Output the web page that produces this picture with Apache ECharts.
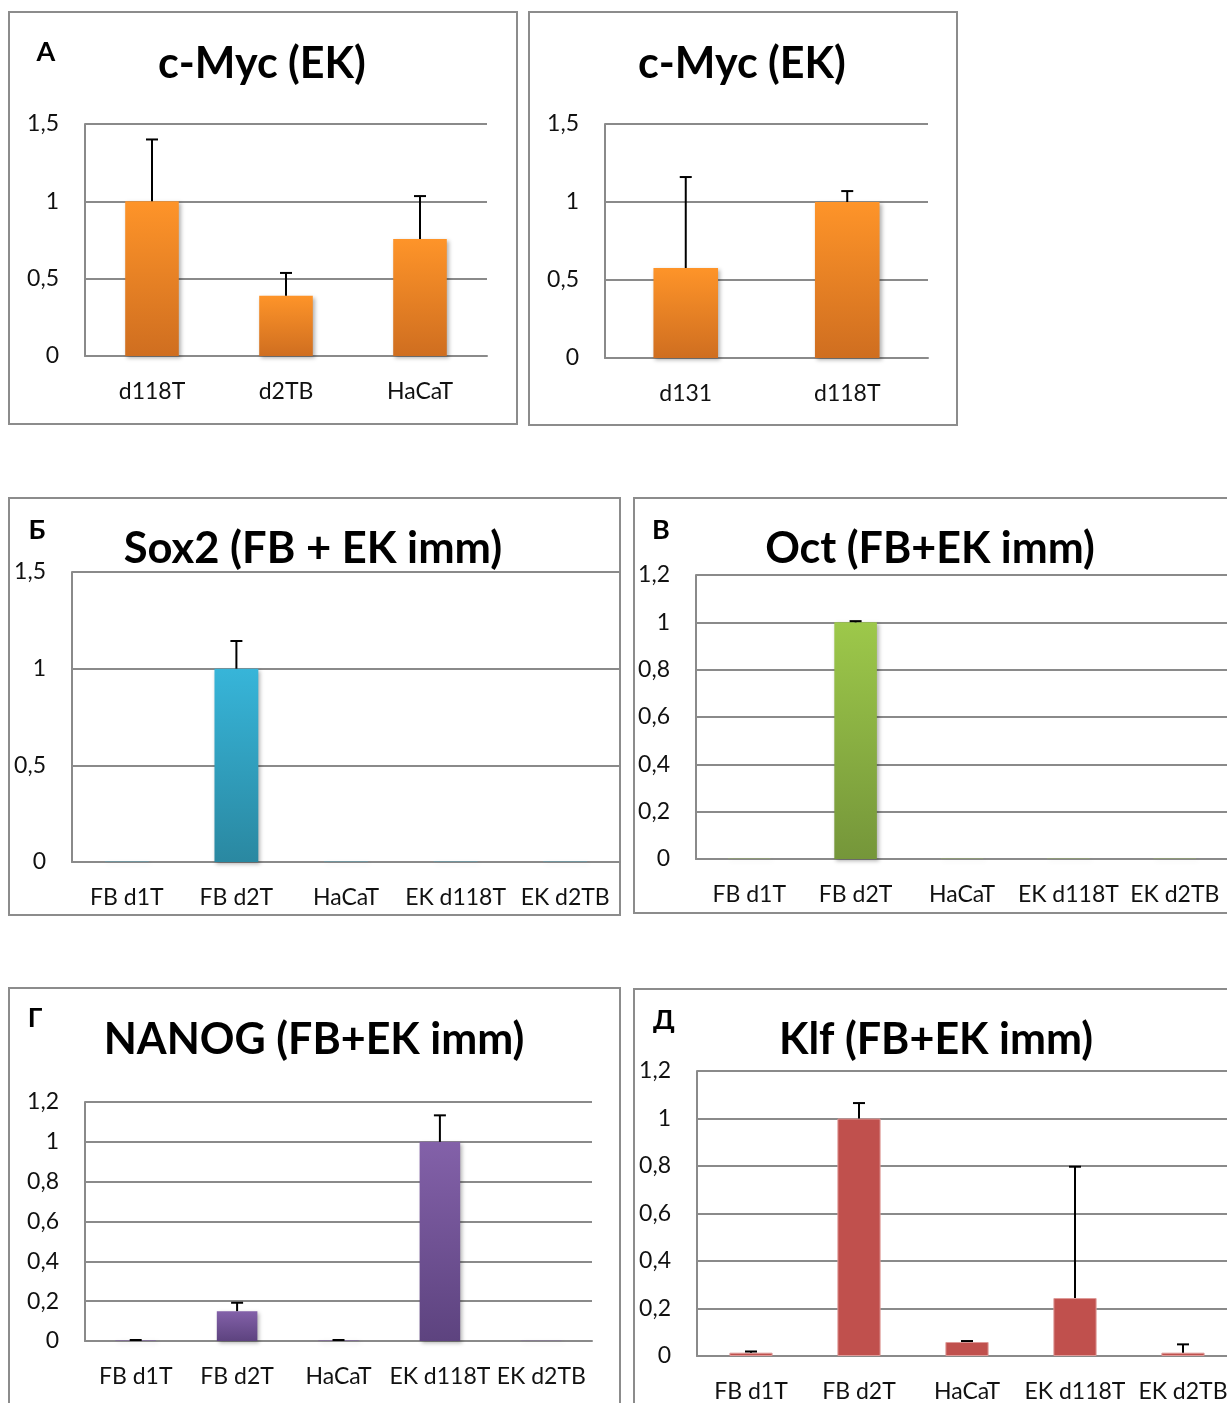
<!DOCTYPE html>
<html>
<head>
<meta charset="utf-8">
<script src="https://cdn.jsdelivr.net/npm/echarts@6/dist/echarts.min.js"></script>
<style>
  html, body { margin: 0; padding: 0; background: #fff; overflow: hidden; }
  /* the right-hand panels run past the page edge, so the canvas is a bit wider */
  #chart { width: 1260px; height: 1403px; }
</style>
</head>
<body>
<div id="chart"></div>
<script>
// ---- data ----
const mycA_cats = ['d118T', 'd2TB', 'HaCaT'];
const mycA_vals = [1.0, 0.39, 0.756];
const mycA_err  = [0.4, 0.147, 0.278];

const mycB_cats = ['d131', 'd118T'];
const mycB_vals = [0.577, 1.0];
const mycB_err  = [0.583, 0.07];

const imm_cats = ['FB d1T', 'FB d2T', 'HaCaT', 'EK d118T', 'EK d2TB'];

const sox2_vals = [0.001, 1.0, 0.001, 0.001, 0.001];
const sox2_err  = [0, 0.143, 0, 0, 0];

const oct_vals = [0.001, 1.0, 0.001, 0.001, 0.001];
const oct_err  = [0, 0.005, 0, 0, 0];

const nanog_vals = [0.003, 0.15, 0.003, 1.0, 0.001];
const nanog_err  = [0.002, 0.042, 0.002, 0.133, 0];

const klf_vals = [0.014, 1.0, 0.059, 0.244, 0.014];
const klf_err  = [0.005, 0.065, 0.004, 0.553, 0.035];

const yTicks15 = { max: 1.5, interval: 0.5 };
const yTicks12 = { max: 1.2, interval: 0.2 };

// ---- styling ----
const FONT = 'Lato, "Open Sans", sans-serif';
const GRID_GREY = '#8a8a8a';

function vgrad(top, bottom) {
  return {
    type: 'linear', x: 0, y: 0, x2: 0, y2: 1,
    colorStops: [{ offset: 0, color: top }, { offset: 1, color: bottom }]
  };
}

const panels = [
  { cats: mycA_cats, vals: mycA_vals, err: mycA_err, ticks: yTicks15,
    grid: { left: 85, top: 124, width: 402, height: 232 },
    color: vgrad('#FE9429', '#CF6E20'), shadow: true },
  { cats: mycB_cats, vals: mycB_vals, err: mycB_err, ticks: yTicks15,
    grid: { left: 605, top: 124, width: 323, height: 234 },
    color: vgrad('#FE9429', '#CF6E20'), shadow: true },
  { cats: imm_cats, vals: sox2_vals, err: sox2_err, ticks: yTicks15,
    grid: { left: 72, top: 572, width: 548, height: 290 },
    color: vgrad('#37B5D9', '#2A88A1'), shadow: true },
  { cats: imm_cats, vals: oct_vals, err: oct_err, ticks: yTicks12,
    grid: { left: 696, top: 575, width: 532, height: 284 },
    color: vgrad('#9DC84A', '#75963A'), shadow: true },
  { cats: imm_cats, vals: nanog_vals, err: nanog_err, ticks: yTicks12,
    grid: { left: 85, top: 1102, width: 507, height: 239 },
    color: vgrad('#8361A9', '#5D437F'), shadow: true },
  { cats: imm_cats, vals: klf_vals, err: klf_err, ticks: yTicks12,
    grid: { left: 697, top: 1071, width: 540, height: 286 },
    color: '#C0504D', border: '#DE9A98', shadow: false }
];

const fmtTick = v => String(+v.toFixed(1)).replace('.', ',');

// error bar: vertical stem from the bar top up by the error, with a cap
function renderErr(params, api) {
  const i = api.value(0), v = api.value(1), e = api.value(2);
  if (!e) return null;
  const p0 = api.coord([i, v]);
  const p1 = api.coord([i, v + e]);
  const st = { stroke: '#000', lineWidth: 2 };
  return {
    type: 'group',
    children: [
      { type: 'line', shape: { x1: p0[0], y1: p0[1], x2: p1[0], y2: p1[1] }, style: st },
      { type: 'line', shape: { x1: p1[0] - 6, y1: p1[1], x2: p1[0] + 6, y2: p1[1] }, style: st }
    ]
  };
}

const grids = [], xAxes = [], yAxes = [], series = [];
panels.forEach((p, k) => {
  grids.push(Object.assign({ containLabel: false }, p.grid));
  xAxes.push({
    type: 'category', gridIndex: k, data: p.cats,
    axisTick: { show: false },
    axisLine: { show: true, lineStyle: { color: GRID_GREY, width: 2 } },
    axisLabel: { color: '#111', fontFamily: FONT, fontSize: 23, margin: 24, interval: 0 }
  });
  yAxes.push({
    type: 'value', gridIndex: k, min: 0, max: p.ticks.max, interval: p.ticks.interval,
    axisLine: { show: true, lineStyle: { color: GRID_GREY, width: 2 } },
    axisTick: { show: false },
    splitLine: { show: true, lineStyle: { color: GRID_GREY, width: 2 } },
    axisLabel: { color: '#111', fontFamily: FONT, fontSize: 23, margin: 26, formatter: fmtTick }
  });
  const itemStyle = { color: p.color };
  if (p.border) { itemStyle.borderColor = p.border; itemStyle.borderWidth = 1; }
  if (p.shadow) {
    itemStyle.shadowColor = 'rgba(0,0,0,0.3)';
    itemStyle.shadowBlur = 4;
    itemStyle.shadowOffsetX = 2;
    itemStyle.shadowOffsetY = 2;
  }
  series.push({
    type: 'bar', xAxisIndex: k, yAxisIndex: k, data: p.vals,
    barWidth: '40%', itemStyle: itemStyle, silent: true, z: 2
  });
  series.push({
    type: 'custom', xAxisIndex: k, yAxisIndex: k,
    data: p.vals.map((v, i) => [i, v, p.err[i]]),
    encode: { x: 0, y: 1 },
    renderItem: renderErr, silent: true, z: 5
  });
});

// panel frames, titles and letters
const frames = [
  [9, 12, 508, 412], [529, 12, 428, 413],
  [9, 498, 611, 417], [634, 498, 640, 415],
  [9, 988, 611, 440], [634, 989, 640, 440]
];
const titles = [
  ['c-Myc (EK)', 262, 64, 43], ['c-Myc (EK)', 742, 64, 43],
  ['Sox2 (FB + EK imm)', 313, 549, 43.5], ['Oct (FB+EK imm)', 930, 549, 43],
  ['NANOG (FB+EK imm)', 314, 1040, 43], ['Klf (FB+EK imm)', 936, 1040, 43]
];
const letters = [['A', 46, 52], ['Б', 37, 530], ['В', 661, 530], ['Г', 35, 1018], ['Д', 664, 1020]];

const graphic = [];
frames.forEach(f => graphic.push({
  type: 'rect', silent: true, z: 0,
  shape: { x: f[0], y: f[1], width: f[2], height: f[3] },
  style: { fill: 'none', stroke: '#8c8c8c', lineWidth: 2 }
}));
titles.forEach(t => graphic.push({
  type: 'text', silent: true, z: 10,
  style: { text: t[0], x: t[1], y: t[2], fill: '#000',
    font: 'bold ' + t[3] + 'px ' + FONT, textAlign: 'center', textVerticalAlign: 'middle' }
}));
letters.forEach(t => graphic.push({
  type: 'text', silent: true, z: 10,
  style: { text: t[0], x: t[1], y: t[2], fill: '#000',
    font: 'bold 27px ' + FONT, textAlign: 'center', textVerticalAlign: 'middle' }
}));

const chart = echarts.init(document.getElementById('chart'), null, { renderer: 'canvas' });
chart.setOption({
  backgroundColor: '#fff',
  animation: false,
  grid: grids,
  xAxis: xAxes,
  yAxis: yAxes,
  series: series,
  graphic: graphic
});
</script>
</body>
</html>
